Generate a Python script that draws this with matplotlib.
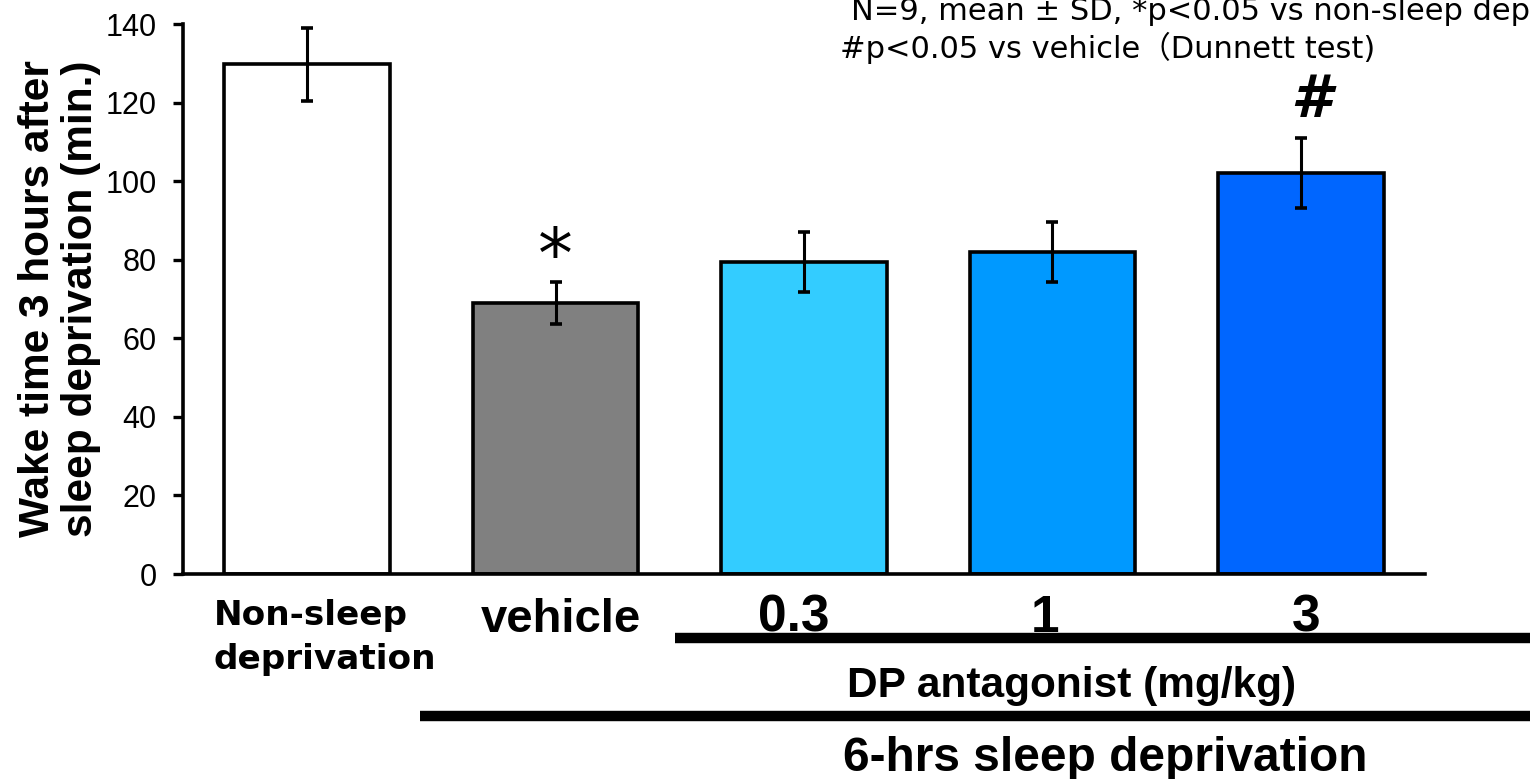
import matplotlib
matplotlib.use("Agg")
import matplotlib.pyplot as plt
import matplotlib.transforms as mtransforms
from matplotlib.lines import Line2D
import numpy as np

# data
groups = ["Non-sleep\ndeprivation", "vehicle", "0.3", "1", "3"]
wake_mean = [129.8, 69.0, 79.4, 82.0, 102.1]
wake_sd = [9.3, 5.3, 7.6, 7.6, 8.9]
bar_colors = ["#FFFFFF", "#808080", "#33CCFF", "#0099FF", "#0066FF"]
marks = ["", "*", "", "", "#"]
y_ticks = [0, 20, 40, 60, 80, 100, 120, 140]

plt.rcParams['font.family'] = ['Liberation Sans', 'DejaVu Sans']

W, H = 1530, 779
fig = plt.figure(figsize=(W / 100, H / 100), dpi=100)
ax = fig.add_axes([183 / W, 205 / H, (1425 - 183) / W, 550 / H])

x = np.arange(len(groups))
ax.bar(x, wake_mean, width=0.667, color=bar_colors, edgecolor='black',
       linewidth=2.6, zorder=2)
ax.errorbar(x, wake_mean, yerr=wake_sd, fmt='none', ecolor='black',
            elinewidth=2.2, capsize=4, capthick=2.6, zorder=3)

ax.set_xlim(-0.5, 4.5)
ax.set_ylim(0, 140)
ax.set_yticks(y_ticks)
ax.tick_params(axis='y', labelsize=22, width=2.4, length=7, direction='out', pad=12)
ax.set_xticks([])
for side in ['top', 'right']:
    ax.spines[side].set_visible(False)
for side in ['left', 'bottom']:
    ax.spines[side].set_linewidth(2.6)

ax.set_ylabel("Wake time 3 hours after\nsleep deprivation (min.)",
              fontsize=30.5, fontweight='bold', linespacing=1.09, labelpad=3)

# significance marks
for i, m in enumerate(marks):
    if m == "*":
        ax.text(x[i], wake_mean[i] + wake_sd[i] + 6, m, ha='center', va='center',
                fontsize=50, family=['DejaVu Sans'])
    elif m == "#":
        ax.text(x[i] + 0.04, wake_mean[i] + wake_sd[i] + 9.5, m, ha='center',
                va='center', fontsize=42, fontweight='bold', style='italic',
                family=['DejaVu Sans'])

# category labels under the axis (small nudges as placed in the original)
label_nudge = [0.0, 0.02, -0.04, -0.03, 0.02]
trans = mtransforms.blended_transform_factory(ax.transData, fig.transFigure)
top_line, bottom_line = groups[0].split("\n")
ax.text(-0.3755, 1 - 625 / H, top_line, transform=trans, ha='left', va='baseline',
        fontsize=24.7, fontweight='bold', family=['DejaVu Sans'])
ax.text(-0.3755, 1 - 669 / H, bottom_line, transform=trans, ha='left',
        va='baseline', fontsize=24.7, fontweight='bold', family=['DejaVu Sans'])
ax.text(x[1] + label_nudge[1], 1 - 632 / H, groups[1], transform=trans,
        ha='center', va='baseline', fontsize=34, fontweight='bold')
for i in range(2, 5):
    ax.text(x[i] + label_nudge[i], 1 - 632 / H, groups[i], transform=trans,
            ha='center', va='baseline', fontsize=37, fontweight='bold')

# group brackets
fig.add_artist(Line2D([1.48, 6.0], [1 - 638 / H] * 2, transform=trans,
                      color='black', linewidth=7.5, solid_capstyle='butt'))
fig.add_artist(Line2D([0.456, 6.0], [1 - 716 / H] * 2, transform=trans,
                      color='black', linewidth=7.5, solid_capstyle='butt'))
fig.text(1072 / W, 1 - 697 / H, "DP antagonist (mg/kg)", ha='center',
         va='baseline', fontsize=30.5, fontweight='bold')
fig.text(1105 / W, 1 - 771 / H, "6-hrs sleep deprivation", ha='center',
         va='baseline', fontsize=34.5, fontweight='bold')

# note in the top right (first line runs off the edge, as in the original)
note_font = ['DejaVu Sans', 'Noto Sans CJK JP']
fig.text(851 / W, 1 - 20 / H,
         "N=9, mean \u00b1 SD, *p<0.05 vs non-sleep deprivation",
         ha='left', va='baseline', fontsize=22, family=note_font)
fig.text(840 / W, 1 - 58 / H, "#p<0.05 vs vehicle\uff08Dunnett test)",
         ha='left', va='baseline', fontsize=22, family=note_font)

fig.savefig("out.png", dpi=100)
